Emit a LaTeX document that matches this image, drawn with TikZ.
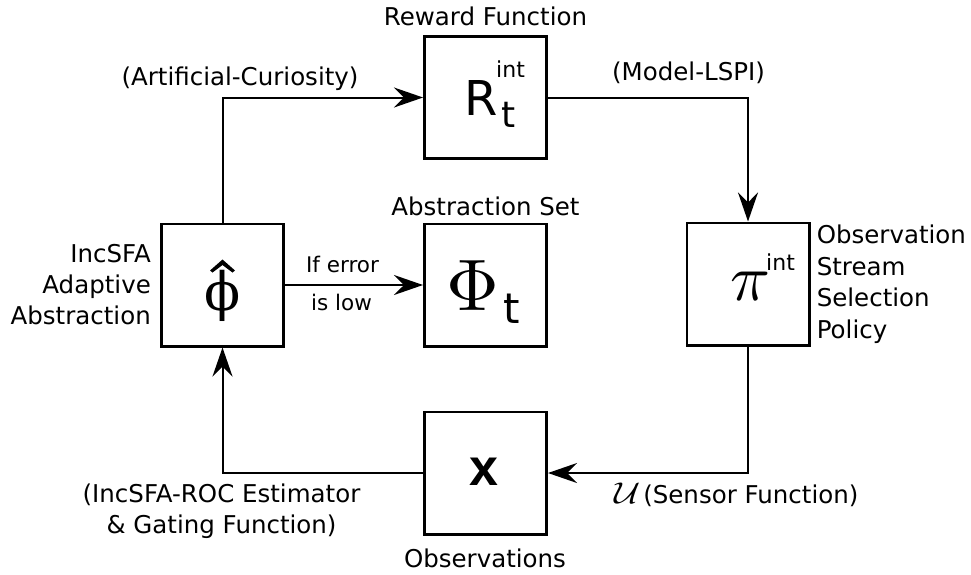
\documentclass[tikz,border=0pt]{standalone}
\usepackage{fontspec}
\setmainfont{DejaVu Sans}
\newfontfamily\dvserif{DejaVu Serif}
\newfontfamily\libsans{Liberation Sans}
\usetikzlibrary{arrows.meta}
\tikzset{
  box/.style={draw, line width=2.7pt, minimum size=122.3pt, inner sep=0pt},
  conn/.style={line width=2pt, -{Stealth[length=29pt,width=20pt,inset=10pt]}},
  lbl/.style={inner sep=0pt, font=\fontsize{24.5}{31}\selectfont},
  smalllbl/.style={inner sep=0pt, font=\fontsize{21.5}{25}\selectfont},
  sym/.style={inner sep=0pt},
}
\begin{document}
\begin{tikzpicture}[x=1pt,y=-1pt]
\useasboundingbox (0,0) rectangle (971,574);
% boxes
\node[box] (R)   at (485.5,97.5) {};
\node[box] (phi) at (222.5,285) {};
\node[box] (Phi) at (485.5,285) {};
\node[box] (pi)  at (748,284) {};
\node[box] (x)   at (485.5,473) {};
% box contents
\node[sym, anchor=base west, font=\fontsize{48}{48}\selectfont] (Rs) at (464.3,115) {R};
\node[sym, anchor=base west, font=\fontsize{22}{22}\selectfont] (Rint) at (496,77) {int};
\node[sym, anchor=base west, font=\fontsize{36}{36}\selectfont] (Rt) at (501,127) {t};
\node[sym, anchor=base, font=\fontsize{53}{53}\selectfont\dvserif] (phis) at (222.5,310) {ϕ};
\fill (222.5,259.5) -- (235,270.5) -- (232.5,272.5) -- (222.5,265) -- (212.5,272.5) -- (210,270.5) -- cycle;
\node[sym, anchor=base] (Phis) at (472.5,310) {\scalebox{7.3}{$\Phi$}};
\node[sym, anchor=base west, font=\fontsize{42}{42}\selectfont] (Phit) at (503,323) {t};
\node[sym, anchor=base west] (pis) at (730,300) {\scalebox{6.6}{$\pi$}};
\node[sym, anchor=base west, font=\fontsize{22}{22}\selectfont] (piint) at (766,270) {int};
\node[sym, anchor=base, font=\fontsize{52}{52}\selectfont\libsans\bfseries] (xs) at (484,485) {x};
% connectors
\draw[conn] (phi.north) |- (R.west);
\draw[conn] (R.east) -| (pi.north);
\draw[conn] (pi.south) |- (x.east);
\draw[conn] (x.west) -| (phi.south);
\draw[conn] (phi.east) -- (Phi.west);
% labels
\node[lbl, anchor=base] (lreward) at (485.5,25) {Reward Function};
\node[lbl, anchor=base] (lcur) at (240,85) {(Artificial-Curiosity)};
\node[lbl, anchor=base] (llspi) at (688.5,80) {(Model-LSPI)};
\node[lbl, anchor=base] (labs) at (485.5,215) {Abstraction Set};
\node[lbl, anchor=base] (lobs) at (485,567) {Observations};
\node[lbl, anchor=east, align=right] (linc) at (151,285) {IncSFA\\Adaptive\\Abstraction};
\node[lbl, anchor=west, align=left, font=\fontsize{24.5}{31.5}\selectfont] (lpol) at (816.6,284) {Observation\\Stream\\Selection\\Policy};
\node[lbl, anchor=center, align=center] (lroc) at (221.5,511.7) {(IncSFA-ROC Estimator\\\& Gating Function)};
\node[lbl, anchor=base west] (lsens) at (614,503) {{\fontsize{10}{12}\selectfont\scalebox{3.6}[3.0]{$\mathcal{U}$}}\hspace{3pt}(Sensor Function)};
\node[smalllbl, anchor=base] (lerr) at (342.5,272) {If error};
\node[smalllbl, anchor=base] (llow) at (341.5,310) {is low};
\end{tikzpicture}
\end{document}
